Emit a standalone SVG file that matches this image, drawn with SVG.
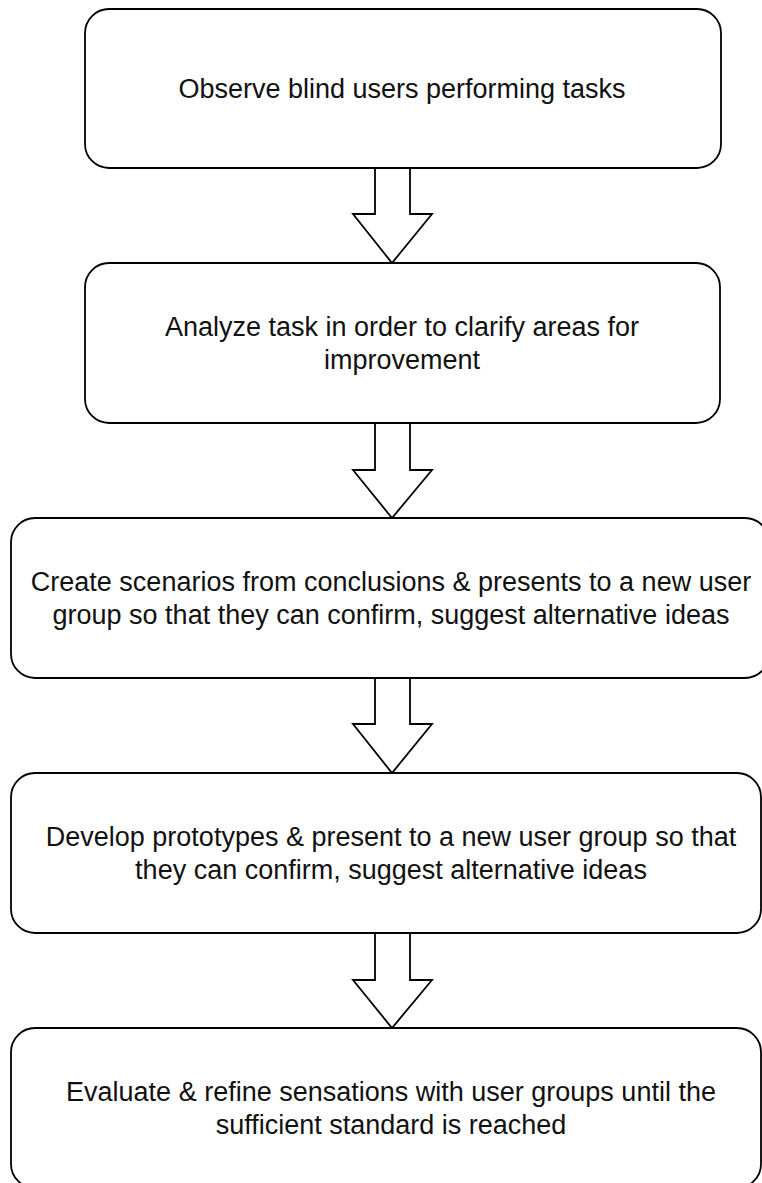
<svg xmlns="http://www.w3.org/2000/svg" width="762" height="1183" viewBox="0 0 762 1183">
<style>
.box{fill:#fff;stroke:#000;stroke-width:1.8}
.arr{fill:#fff;stroke:#000;stroke-width:1.8;stroke-linejoin:miter}
text{font-family:"Liberation Sans",Arial,sans-serif;font-size:27px;fill:#111;text-anchor:middle}
</style>
<rect width="762" height="1183" fill="#fff"/>
<g id="connectors">
<polygon class="arr" points="375,168 410,168 410,214 432,214 392,263 353,214 375,214"/>
<polygon class="arr" points="375,423 410,423 410,470 432,470 392,518 353,470 375,470"/>
<polygon class="arr" points="375,678 410,678 410,724 432,724 392,773 353,724 375,724"/>
<polygon class="arr" points="375,933 410,933 410,980 432,980 392,1028 353,980 375,980"/>
</g>
<g id="node1">
<rect class="box" x="85" y="9" width="636" height="159" rx="24"/>
<text x="402" y="98.3">Observe blind users performing tasks</text>
</g>
<g id="node2">
<rect class="box" x="85" y="263" width="635" height="160" rx="24"/>
<text x="402" y="336.3">Analyze task in order to clarify areas for</text>
<text x="402" y="369.3">improvement</text>
</g>
<g id="node3">
<rect class="box" x="11" y="518" width="758" height="160" rx="24"/>
<text x="391" y="591.3">Create scenarios from conclusions &amp; presents to a new user</text>
<text x="391" y="624.3">group so that they can confirm, suggest alternative ideas</text>
</g>
<g id="node4">
<rect class="box" x="11" y="773" width="750" height="160" rx="24"/>
<text x="391" y="846.3">Develop prototypes &amp; present to a new user group so that</text>
<text x="391" y="879.3">they can confirm, suggest alternative ideas</text>
</g>
<g id="node5">
<rect class="box" x="11" y="1028" width="750" height="160" rx="24"/>
<text x="391" y="1101.3">Evaluate &amp; refine sensations with user groups until the</text>
<text x="391" y="1134.3">sufficient standard is reached</text>
</g>
</svg>
